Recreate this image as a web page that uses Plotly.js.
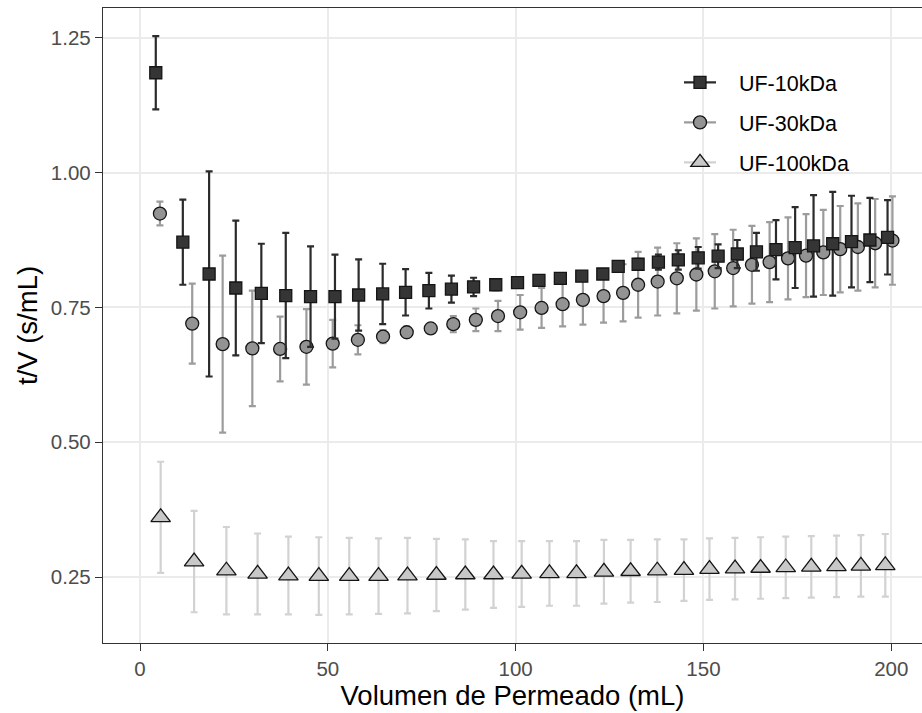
<!DOCTYPE html>
<html>
<head>
<meta charset="utf-8">
<script src="https://cdn.plot.ly/plotly-3.0.1.min.js"></script>
<style>
  html, body { margin: 0; padding: 0; background: #ffffff; }
  #chart { width: 922px; height: 713px; }
</style>
</head>
<body>
<div id="chart"></div>
<script>
// Permeate volume (mL), mean t/V (s/mL) and standard deviation for each membrane

// UF-10kDa
const vol10 = [4.2, 11.4, 18.4, 25.5, 32.3, 38.8, 45.4, 51.9, 58.2, 64.6, 70.7, 76.9, 82.9, 88.8, 94.7,
  100.5, 106.2, 111.9, 117.6, 123.2, 127.3, 132.6, 138.0, 143.3, 148.6, 153.9, 159.0, 164.1, 169.3,
  174.4, 179.3, 184.4, 189.4, 194.3, 199.0];
const tv10 = [1.185, 0.871, 0.812, 0.786, 0.776, 0.772, 0.770, 0.770, 0.773, 0.775, 0.778, 0.781, 0.784,
  0.788, 0.792, 0.796, 0.800, 0.804, 0.808, 0.812, 0.826, 0.830, 0.834, 0.838, 0.842, 0.845, 0.849,
  0.853, 0.857, 0.861, 0.864, 0.868, 0.872, 0.875, 0.880];
const sd10 = [0.068, 0.079, 0.190, 0.125, 0.092, 0.116, 0.093, 0.078, 0.066, 0.056, 0.043, 0.033, 0.025,
  0.017, 0.010, 0.004, 0.003, 0.003, 0.003, 0.004, 0.006, 0.010, 0.014, 0.018, 0.020, 0.022, 0.026,
  0.035, 0.055, 0.075, 0.094, 0.096, 0.085, 0.078, 0.069];

// UF-30kDa
const vol30 = [5.3, 13.9, 22.0, 29.9, 37.3, 44.3, 51.3, 58.0, 64.7, 71.0, 77.4, 83.4, 89.4, 95.3, 101.2,
  106.9, 112.5, 117.9, 123.4, 128.6, 132.6, 137.8, 142.9, 148.1, 153.0, 157.9, 162.9, 167.6, 172.5,
  177.3, 181.9, 186.4, 191.1, 195.7, 200.3];
const tv30 = [0.924, 0.720, 0.682, 0.674, 0.673, 0.677, 0.683, 0.690, 0.696, 0.704, 0.711, 0.719, 0.727,
  0.734, 0.741, 0.749, 0.756, 0.764, 0.771, 0.777, 0.792, 0.798, 0.804, 0.811, 0.817, 0.823, 0.829,
  0.834, 0.841, 0.846, 0.852, 0.858, 0.862, 0.869, 0.874];
const sd30 = [0.022, 0.074, 0.164, 0.107, 0.060, 0.070, 0.044, 0.027, 0.012, 0.010, 0.008, 0.015, 0.021,
  0.028, 0.032, 0.037, 0.041, 0.046, 0.049, 0.053, 0.061, 0.063, 0.065, 0.067, 0.069, 0.071, 0.072,
  0.074, 0.076, 0.077, 0.079, 0.080, 0.081, 0.082, 0.082];

// UF-100kDa
const vol100 = [5.5, 14.4, 23.0, 31.3, 39.5, 47.6, 55.7, 63.5, 71.2, 78.9, 86.6, 94.1, 101.6, 109.0,
  116.2, 123.5, 130.6, 137.7, 144.8, 151.6, 158.4, 165.2, 171.9, 178.7, 185.4, 191.9, 198.4];
const tv100 = [0.361, 0.279, 0.262, 0.256, 0.253, 0.252, 0.252, 0.252, 0.253, 0.254, 0.255, 0.255, 0.256,
  0.257, 0.257, 0.260, 0.261, 0.262, 0.263, 0.265, 0.266, 0.267, 0.268, 0.269, 0.270, 0.271, 0.272];
const sd100 = [0.103, 0.094, 0.081, 0.075, 0.072, 0.072, 0.071, 0.070, 0.070, 0.067, 0.065, 0.062, 0.061,
  0.060, 0.060, 0.059, 0.058, 0.058, 0.057, 0.057, 0.057, 0.057, 0.057, 0.057, 0.057, 0.057, 0.058];

const seriesNames = ['UF-10kDa', 'UF-30kDa', 'UF-100kDa'];
const xTickVals = [0, 50, 100, 150, 200];
const xTickText = ['0', '50', '100', '150', '200'];
const yTickVals = [0.25, 0.50, 0.75, 1.00, 1.25];
const yTickText = ['0.25', '0.50', '0.75', '1.00', '1.25'];

const FONT = 'Liberation Sans, Arial, Helvetica, sans-serif';

const styles = {
  'UF-10kDa':  { symbol: 'square',      size: 12, fill: '#353535', bar: '#2b2b2b' },
  'UF-30kDa':  { symbol: 'circle',      size: 13, fill: '#939393', bar: '#9c9c9c' },
  'UF-100kDa': { symbol: 'triangle-up', size: 17, fill: '#c8c8c8', bar: '#d2d2d2' }
};

function pointsTrace(x, y, sd, name) {
  const st = styles[name];
  return {
    type: 'scatter', mode: 'markers', x: x, y: y, name: name,
    showlegend: false, hoverinfo: 'x+y',
    marker: { symbol: st.symbol, size: st.size, color: st.fill,
              line: { color: '#151515', width: 1.3 } },
    error_y: { type: 'data', array: sd, visible: true, color: st.bar, thickness: 2.2, width: 3.5 }
  };
}

// legend entry: key line with marker, label set a little away from the key
function keyTrace(name) {
  const st = styles[name];
  return {
    type: 'scatter', mode: 'lines+markers', x: [null], y: [null],
    name: '\u00a0\u00a0\u00a0' + name,
    legendgroup: name, showlegend: true,
    line: { color: st.bar, width: 2.2 },
    marker: { symbol: st.symbol, size: st.size, color: st.fill,
              line: { color: '#151515', width: 1.3 } }
  };
}

const data = [
  pointsTrace(vol100, tv100, sd100, seriesNames[2]),
  pointsTrace(vol30, tv30, sd30, seriesNames[1]),
  pointsTrace(vol10, tv10, sd10, seriesNames[0]),
  keyTrace(seriesNames[0]),
  keyTrace(seriesNames[1]),
  keyTrace(seriesNames[2])
];

const axisCommon = {
  showgrid: true, gridcolor: '#ebebeb', gridwidth: 1.6,
  zeroline: false, showline: true, linecolor: '#333333', linewidth: 1.3,
  ticks: 'outside', ticklen: 7, tickwidth: 1.4, tickcolor: '#333333',
  tickfont: { family: FONT, size: 20.5, color: '#4d4d4d' },
  automargin: true, fixedrange: true
};

const layout = {
  width: 922, height: 713,
  margin: { l: 103, r: 0, t: 8, b: 70 },
  paper_bgcolor: '#ffffff', plot_bgcolor: '#ffffff',
  font: { family: FONT, color: '#000000' },
  showlegend: true,
  xaxis: Object.assign({}, axisCommon, {
    range: [-9.85, 208.17], tickmode: 'array', tickvals: xTickVals, ticktext: xTickText,
    mirror: true,
    title: { text: 'Volumen de Permeado (mL)', font: { family: FONT, size: 27.5, color: '#000000' }, standoff: 1 }
  }),
  yaxis: Object.assign({}, axisCommon, {
    range: [0.128, 1.305], tickmode: 'array', tickvals: yTickVals, ticktext: yTickText,
    title: { text: 't/V (s/mL)', font: { family: FONT, size: 27.5, color: '#000000' }, standoff: 5 }
  }),
  legend: {
    x: 0.7033, y: 0.915, xanchor: 'left', yanchor: 'top',
    bgcolor: 'rgba(0,0,0,0)', borderwidth: 0,
    font: { family: FONT, size: 21.5, color: '#000000' },
    traceorder: 'grouped', tracegroupgap: 9, itemwidth: 32
  },
  // white backing behind the legend keys
  shapes: [{
    type: 'rect', xref: 'paper', yref: 'paper',
    x0: 0.702, x1: 0.757, y0: 0.724, y1: 0.917,
    fillcolor: '#ffffff', line: { width: 0 }, layer: 'between'
  }]
};

Plotly.newPlot('chart', data, layout, { displayModeBar: false, responsive: false });
</script>
</body>
</html>
